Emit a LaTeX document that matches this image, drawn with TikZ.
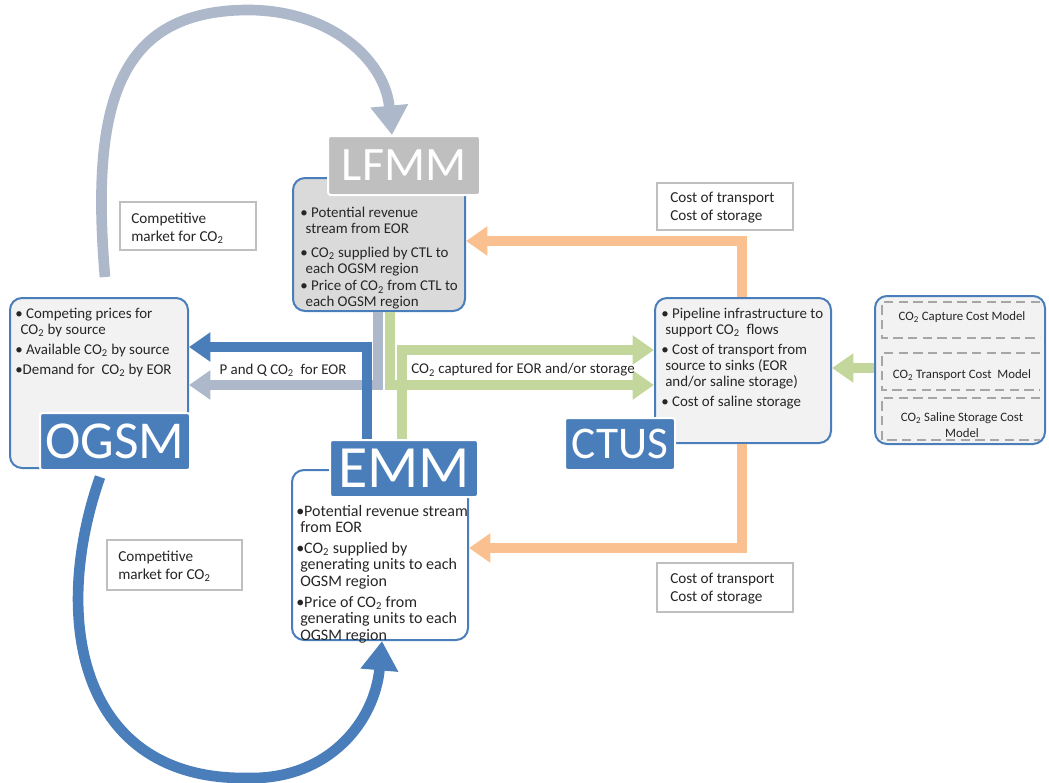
\documentclass[tikz,border=0pt]{standalone}
\usepackage{fontspec}
\setmainfont{Carlito}
\usetikzlibrary{arrows.meta,fit}
\definecolor{labblue}{HTML}{4A7EBB}
\definecolor{boxblue}{HTML}{4A7EBB}
\definecolor{arrblue}{HTML}{4A7EBB}
\definecolor{arrgray}{HTML}{ADB9CA}
\definecolor{arrgreen}{HTML}{C3D69B}
\definecolor{arrorange}{HTML}{FAC090}
\definecolor{lightfill}{HTML}{F2F2F2}
\definecolor{lfmmfill}{HTML}{DADADA}
\definecolor{lfmmlab}{HTML}{BFBFBF}
\definecolor{notegray}{HTML}{BFBFBF}
\definecolor{dashgray}{HTML}{A6A6A6}
\definecolor{txtcol}{HTML}{262626}
\newcommand{\cotwo}{CO\textsubscript{2}}
\begin{document}
\begin{tikzpicture}[x=0.75pt,y=-0.75pt,
  box/.style={draw=boxblue, line width=1.5pt, rounded corners=9pt, inner sep=0pt},
  lab/.style={fill=labblue, draw=white, line width=1.5pt, rounded corners=2pt, inner sep=0pt},
  labtxt/.style={inner sep=0pt, text=white},
  note/.style={draw=notegray, line width=0.8pt, fill=white, inner sep=0pt},
  txt/.style={inner sep=0pt, align=left, text=txtcol, font=\fontsize{11.2}{12}\selectfont},
  ntxt/.style={inner sep=0pt, align=left, text=txtcol, font=\fontsize{11.4}{13.5}\selectfont},
  stxt/.style={inner sep=0pt, align=center, text=txtcol, font=\fontsize{9.6}{11.5}\selectfont},
  flow/.style={line width=6.8pt},
  head/.style={-{Triangle[width=21pt,length=16pt]}},
  archead/.style={-{Triangle[width=27pt,length=22pt]}},
  dbox/.style={draw=dashgray, line width=1.3pt, dash pattern=on 7pt off 4pt},
]
\useasboundingbox (0,0) rectangle (1049,782);

% ---------- boxes ----------
\node[box, fill=lightfill, fit={(10,298) (188,468)}] (ogsmbox) {};
\node[box, fill=lfmmfill, fit={(293,178) (465,311)}] (lfmmbox) {};
\node[box, fill=white, fit={(292,470) (468,640)}] (emmbox) {};
\node[box, fill=lightfill, fit={(655,298) (831,443)}] (ctusbox) {};
\node[box, fill=lightfill, fit={(875,296) (1045,444)}] (rightbox) {};

% dashed sub-models
\draw[dbox] (1040,302) -- (882,302) -- (882,338) -- (1040,338);
\draw[dbox] (1040,353) -- (882,353) -- (882,390) -- (1040,390);
\draw[dbox] (1040,398) -- (882,398) -- (882,440) -- (1040,440);

% ---------- connectors ----------
\draw[flow, arrgray, head] (lfmmbox.south -| 378,0) |- (ogsmbox.east |- 0,385);
\draw[flow, arrblue, head] (367,440) |- (ogsmbox.east |- 0,347);
\draw[flow, arrgreen, head] (lfmmbox.south -| 390,0) |- (ctusbox.west |- 0,385);
\draw[flow, arrgreen, head] (402,440) |- (ctusbox.west |- 0,350);
\draw[flow, arrgreen, head] (rightbox.west |- 0,368) -- (ctusbox.east |- 0,368);
\draw[flow, arrorange, head] (ctusbox.north -| 742,0) |- (lfmmbox.east |- 0,241);
\draw[flow, arrorange, head] (ctusbox.south -| 742,0) |- (emmbox.east |- 0,548);

\node[txt] (pq) at (283,370) {P and Q \cotwo{} \ for EOR};
\node[txt] (capt) at (523,370) {\cotwo{} captured for EOR and/or storage};

% ---------- labels ----------
\node[lab, fill=lfmmlab, fit={(328,136) (480,195)}] (lfmmlab) {};
\node[labtxt, font=\fontsize{36}{36}\selectfont] at (lfmmlab.center) {LFMM};
\node[lab, fit={(330,440) (478,497)}] (emmlab) {};
\node[labtxt, font=\fontsize{45}{45}\selectfont] at (emmlab.center) {EMM};
\node[lab, fit={(40,413) (190,470)}] (ogsmlab) {};
\node[labtxt, font=\fontsize{40}{40}\selectfont] at (ogsmlab.center) {OGSM};
\node[lab, fit={(565,418) (675,470)}] (ctuslab) {};
\node[labtxt, font=\fontsize{34}{34}\selectfont] at (ctuslab.center) {CTUS};

% ---------- arcs ----------
\coordinate (arcAstart) at (105,277);
\draw[line width=8pt, arrgray, archead] (arcAstart) .. controls (90,100) and (120,12) .. (245,10)
  .. controls (330,9) and (385,60) .. (lfmmlab.north -| 392,0);
\coordinate (arcBstart) at (100,477);
\draw[line width=8pt, arrblue, archead] (arcBstart) .. controls (50,620) and (80,780) .. (247,778)
  .. controls (330,780) and (375,720) .. (emmbox.south -| 382,0);

% ---------- box texts ----------
\node[txt, anchor=north west] (ogsmtxt) at (15,308) {• Competing prices for\\\hspace*{4pt}\cotwo{} by source\\[3pt]• Available \cotwo{} by source\\[3pt]•Demand for \ \cotwo{} by EOR};
\node[txt, anchor=north west] (lfmmtxt) at (300,207) {• Potential revenue\\\hspace*{4pt}stream from EOR\\[6pt]• \cotwo{} supplied by CTL to\\\hspace*{4pt}each OGSM region\\[1pt]• Price of \cotwo{} from CTL to\\\hspace*{4pt}each OGSM region};
\node[txt, anchor=north west, font=\fontsize{12}{12.4}\selectfont] (emmtxt) at (296,505) {•Potential revenue stream\\\hspace*{3pt}from EOR\\[3pt]•\cotwo{} supplied by\\\hspace*{3pt}generating units to each\\\hspace*{3pt}OGSM region\\[3pt]•Price of \cotwo{} from\\\hspace*{3pt}generating units to each\\\hspace*{3pt}OGSM region};
\node[txt, anchor=north west] (ctustxt) at (661,308) {• Pipeline infrastructure to\\\hspace*{3pt}support \cotwo{} \ flows\\[3pt]• Cost of transport from\\\hspace*{3pt}source to sinks (EOR\\\hspace*{3pt}and/or saline storage)\\[3pt]• Cost of saline storage};

\node[stxt] (m1) at (962,317) {\cotwo{} Capture Cost Model};
\node[stxt] (m2) at (962,375) {\cotwo{} Transport Cost \ Model};
\node[stxt] (m3) at (962,425) {\cotwo{} Saline Storage Cost\\Model};

% ---------- notes ----------
\node[note, fit={(120,202) (256,250)}] (compA) {};
\node[ntxt, anchor=north west] at (131,213) {Competitive\\market for \cotwo};
\node[note, fit={(107,540) (242,590)}] (compB) {};
\node[ntxt, anchor=north west] at (118,551) {Competitive\\market for \cotwo};
\node[note, fit={(657,183) (793,230)}] (costA) {};
\node[ntxt, anchor=north west] at (670,192) {Cost of transport\\Cost of storage};
\node[note, fit={(657,563) (793,612)}] (costB) {};
\node[ntxt, anchor=north west] at (670,573) {Cost of transport\\Cost of storage};
\end{tikzpicture}
\end{document}
